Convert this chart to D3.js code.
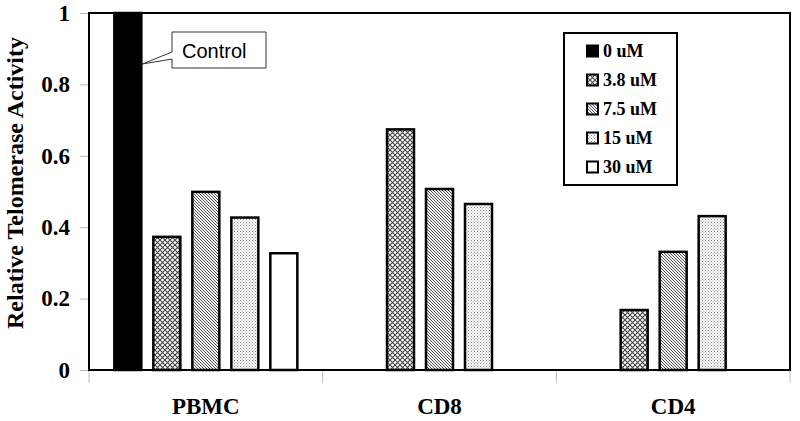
<!DOCTYPE html>
<html>
<head>
<meta charset="utf-8">
<script src="https://cdn.jsdelivr.net/npm/d3@7"></script>
<style>
  html, body { margin: 0; padding: 0; background: #fff; }
  svg { display: block; }
</style>
</head>
<body>
<svg id="chart" width="800" height="421"></svg>
<script>
// ---- data ----
const categories = ["PBMC", "CD8", "CD4"];
const seriesNames = ["0 uM", "3.8 uM", "7.5 uM", "15 uM", "30 uM"];
const values_0uM   = [1.0,  null, null];
const values_3_8uM = [0.373, 0.674, 0.168];
const values_7_5uM = [0.499, 0.507, 0.331];
const values_15uM  = [0.427, 0.465, 0.431];
const values_30uM  = [0.327, null, null];
const yTicks = [0, 0.2, 0.4, 0.6, 0.8, 1];
const yTickLabels = ["0", "0.2", "0.4", "0.6", "0.8", "1"];
const yTitle = "Relative Telomerase Activity";
const calloutText = "Control";

const seriesValues = [values_0uM, values_3_8uM, values_7_5uM, values_15uM, values_30uM];
const fills = ["#000", "url(#pCross)", "url(#pDiag)", "url(#pDots)", "#fff"];

const svg = d3.select("#chart");
const plot = { left: 89, right: 790, top: 13, bottom: 370 };

// ---- patterns ----
const defs = svg.append("defs");
const pc = defs.append("pattern").attr("id", "pCross").attr("patternUnits", "userSpaceOnUse")
  .attr("width", 5).attr("height", 5);
pc.append("rect").attr("width", 5).attr("height", 5).attr("fill", "#fff");
pc.append("path").attr("d", "M0,0 L5,5 M5,0 L0,5").attr("stroke", "#444").attr("stroke-width", 1.1);

const pd = defs.append("pattern").attr("id", "pDiag").attr("patternUnits", "userSpaceOnUse")
  .attr("width", 3).attr("height", 3);
pd.append("rect").attr("width", 3).attr("height", 3).attr("fill", "#f2f2f2");
pd.append("path").attr("d", "M0,0 L3,3 M-1,2 L1,4 M2,-1 L4,1").attr("stroke", "#555").attr("stroke-width", 1);

const pdt = defs.append("pattern").attr("id", "pDots").attr("patternUnits", "userSpaceOnUse")
  .attr("width", 3).attr("height", 3);
pdt.append("rect").attr("width", 3).attr("height", 3).attr("fill", "#fbfbfb");
pdt.append("rect").attr("x", 0).attr("y", 0).attr("width", 1).attr("height", 1).attr("fill", "#888");
pdt.append("rect").attr("x", 1.5).attr("y", 1.5).attr("width", 1).attr("height", 1).attr("fill", "#aaa");

// ---- scales ----
const x0 = d3.scaleBand().domain(categories).range([plot.left, plot.right]).padding(0);
const bw = x0.bandwidth();
const groupW = 195;
const x1 = d3.scaleBand().domain(seriesNames)
  .range([(bw - groupW) / 2, (bw + groupW) / 2])
  .paddingInner(0.3077).paddingOuter(0.1538);
const y = d3.scaleLinear().domain([0, 1]).range([plot.bottom, plot.top]);

// ---- y axis ----
const yAxis = d3.axisLeft(y).tickValues(yTicks)
  .tickFormat((d, i) => yTickLabels[i]).tickSize(9).tickPadding(10);
const gy = svg.append("g").attr("transform", `translate(${plot.left},0)`).call(yAxis);
gy.select(".domain").remove();
gy.selectAll(".tick line").attr("stroke", "#bbb");
gy.selectAll(".tick text")
  .attr("font-family", "'Liberation Serif', 'Times New Roman', serif")
  .attr("font-weight", "bold").attr("font-size", 23).attr("fill", "#000");

// x ticks at band boundaries
const boundaries = categories.map(c => x0(c)).concat([plot.right]);
svg.append("g").selectAll("line").data(boundaries).join("line")
  .attr("x1", d => d).attr("x2", d => d)
  .attr("y1", plot.bottom).attr("y2", plot.bottom + 13)
  .attr("stroke", "#bbb").attr("stroke-width", 1);

// x labels
svg.append("g").selectAll("text").data(categories).join("text")
  .attr("x", d => x0(d) + bw / 2).attr("y", 414)
  .attr("text-anchor", "middle")
  .attr("font-family", "'Liberation Serif', 'Times New Roman', serif")
  .attr("font-weight", "bold").attr("font-size", 23)
  .text(d => d);

// y title
svg.append("text")
  .attr("transform", `translate(23,183) rotate(-90)`)
  .attr("text-anchor", "middle")
  .attr("font-family", "'Liberation Serif', 'Times New Roman', serif")
  .attr("font-weight", "bold").attr("font-size", 24)
  .text(yTitle);

// ---- bars ----
const barData = [];
categories.forEach((c, ci) => {
  seriesNames.forEach((s, si) => {
    const v = seriesValues[si][ci];
    if (v !== null && v !== undefined) barData.push({ c, s, si, v });
  });
});
svg.append("g").selectAll("rect").data(barData).join("rect")
  .attr("x", d => x0(d.c) + x1(d.s))
  .attr("y", d => y(d.v))
  .attr("width", x1.bandwidth())
  .attr("height", d => y(0) - y(d.v))
  .attr("fill", d => fills[d.si])
  .attr("stroke", "#000").attr("stroke-width", 2.5);

// plot border
svg.append("rect")
  .attr("x", plot.left).attr("y", plot.top)
  .attr("width", plot.right - plot.left).attr("height", plot.bottom - plot.top)
  .attr("fill", "none").attr("stroke", "#000").attr("stroke-width", 2);

// ---- legend ----
const lg = svg.append("g");
lg.append("rect").attr("x", 564).attr("y", 33).attr("width", 113).attr("height", 152)
  .attr("fill", "#fff").attr("stroke", "#000").attr("stroke-width", 2);
const rows = lg.selectAll("g.row").data(seriesNames).join("g").attr("class", "row")
  .attr("transform", (d, i) => `translate(0,${51 + i * 29})`);
rows.append("rect").attr("x", 587).attr("y", -5.5).attr("width", 11).attr("height", 11)
  .attr("fill", (d, i) => fills[i]).attr("stroke", "#000").attr("stroke-width", 2);
rows.append("text").attr("x", 603).attr("y", 6)
  .attr("font-family", "'Liberation Serif', 'Times New Roman', serif")
  .attr("font-weight", "bold").attr("font-size", 18)
  .text(d => d);

// ---- callout ----
const ctrlX = x0(categories[0]) + x1(seriesNames[0]) + x1.bandwidth();
const cg = svg.append("g");
cg.append("path")
  .attr("d", `M172,32 H266 V68 H172 V59 L${ctrlX + 1},64 L172,52 Z`)
  .attr("fill", "#fff").attr("stroke", "#333").attr("stroke-width", 1);
cg.append("text").attr("x", 182).attr("y", 58)
  .attr("font-family", "'Liberation Sans', Arial, sans-serif")
  .attr("font-size", 20).text(calloutText);
</script>
</body>
</html>
